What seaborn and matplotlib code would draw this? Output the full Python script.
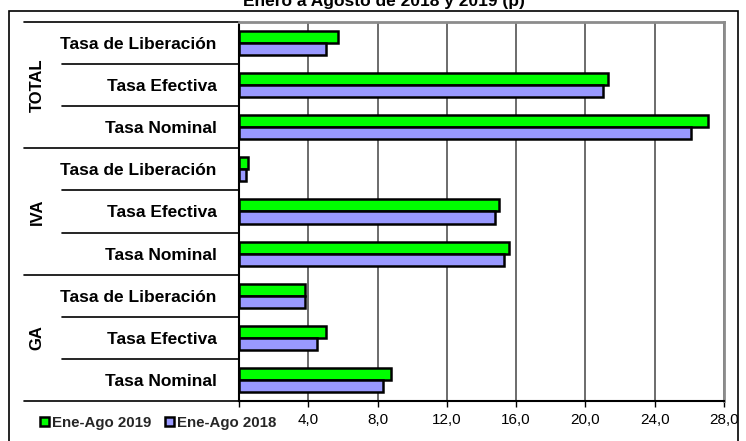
import matplotlib
matplotlib.use("Agg")
import matplotlib.pyplot as plt
import pandas as pd
import seaborn as sns
from matplotlib.patches import Rectangle

# data
groups = ["TOTAL", "IVA", "GA"]
rates = ["Tasa de Liberación", "Tasa Efectiva", "Tasa Nominal"]
series = ["Ene-Ago 2019", "Ene-Ago 2018"]
values_2019 = [5.7, 21.3, 27.1, 0.5, 15.0, 15.6, 3.8, 5.0, 8.8]
values_2018 = [5.0, 21.0, 26.1, 0.4, 14.8, 15.3, 3.8, 4.5, 8.3]
xticks = [0, 4, 8, 12, 16, 20, 24, 28]
xtick_labels = ["", "4,0", "8,0", "12,0", "16,0", "20,0", "24,0", "28,0"]
title = "Enero a Agosto de 2018 y 2019 (p)"

keys = [f"{g}|{r}" for g in groups for r in rates]
df = pd.DataFrame({
    "key": keys * 2,
    "value": values_2019 + values_2018,
    "series": [series[0]] * len(keys) + [series[1]] * len(keys),
})

sns.set_theme(style="white")
plt.rcParams["font.family"] = ["Liberation Sans", "DejaVu Sans"]

W, H = 746, 441
fig = plt.figure(figsize=(W / 100, H / 100), dpi=100)
left, right, top, bottom = 239, 724, 22, 401
ax = fig.add_axes([left / W, 1 - bottom / H, (right - left) / W, (bottom - top) / H])

sns.barplot(data=df, y="key", x="value", hue="series", order=keys, hue_order=series,
            palette={series[0]: "#00ff00", series[1]: "#9999ff"}, saturation=1,
            width=0.57, edgecolor="black", linewidth=1.8, orient="h", ax=ax)

ax.set_xlim(0, 28)
ax.set_ylim(len(keys) - 0.5, -0.5)
ax.set_xlabel("")
ax.set_ylabel("")
ax.set_axisbelow(True)
ax.xaxis.grid(True, color="#444444", lw=1.1)
ax.yaxis.grid(False)

ax.set_xticks(xticks)
ax.set_xticklabels(xtick_labels, fontsize=11, color="black")
ax.tick_params(axis="x", direction="out", length=4, width=1, color="black", pad=5, bottom=True)
ax.set_yticks(range(len(keys)))
ax.set_yticklabels(rates * len(groups), fontsize=12.5, fontweight="bold", color="black")
ax.tick_params(axis="y", length=0, pad=16)

for side in ["top", "right"]:
    ax.spines[side].set_color("#8c8c8c")
    ax.spines[side].set_linewidth(2)
for side in ["left", "bottom"]:
    ax.spines[side].set_color("black")
    ax.spines[side].set_linewidth(1.5)

# multi-level category separators
trans = ax.get_yaxis_transform()
px = right - left
for i in range(len(keys) + 1):
    b = i - 0.5
    x0 = (24 - left) / px if i % 3 == 0 else (62 - left) / px
    ax.plot([x0, 0], [b, b], color="black", lw=1.2, transform=trans, clip_on=False)

for gi, g in enumerate(groups):
    ax.text((37 - left) / px, gi * 3 + 1, g, rotation=90, transform=trans,
            ha="center", va="center", fontsize=12, fontweight="bold", color="black")

handles, labels = ax.get_legend_handles_labels()
ax.get_legend().remove()
fig.legend(handles, labels, loc="center left", bbox_to_anchor=(34 / W, 1 - 423 / H),
           ncol=2, frameon=False, handlelength=0.6, handleheight=0.6,
           handletextpad=0.2, columnspacing=0.9, borderaxespad=0,
           prop={"weight": "bold", "size": 10.8})

fig.patches.append(Rectangle((9 / W, -0.05), (738 - 9) / W, 1.05 - 11 / H,
                             transform=fig.transFigure, fill=False,
                             edgecolor="black", lw=1.2))
fig.text(384 / W, 1 - 6 / H, title, ha="center", va="baseline",
         fontsize=12.5, fontweight="bold", color="black")

fig.savefig("out.png", dpi=100)
plt.close(fig)
